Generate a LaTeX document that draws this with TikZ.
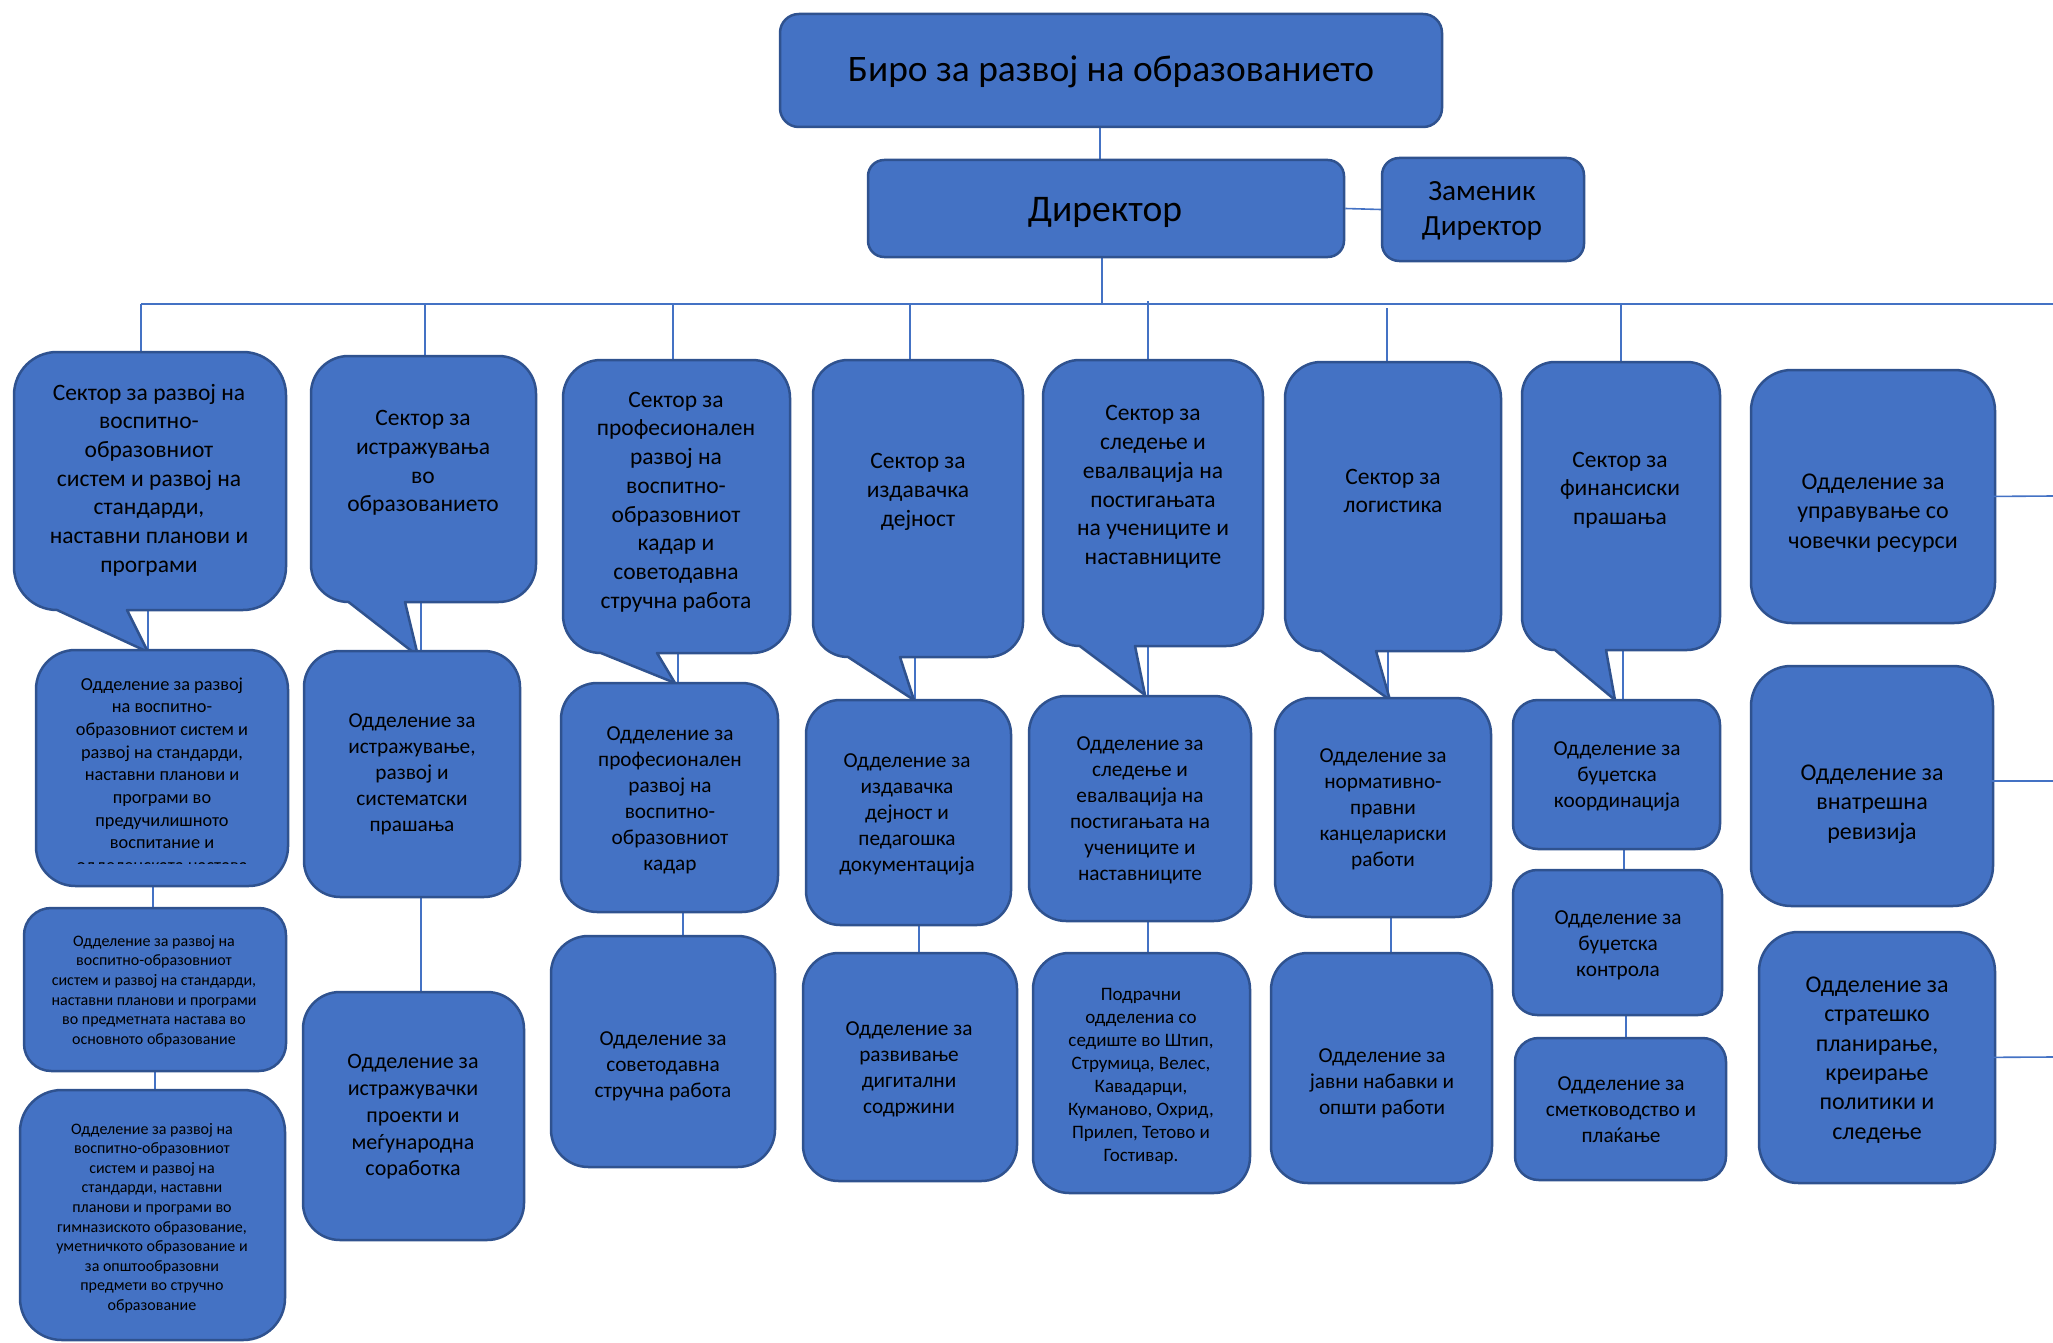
\documentclass[tikz,border=0pt]{standalone}
\usepackage{fontspec}
\setmainfont{Carlito}
\usetikzlibrary{backgrounds}
\definecolor{fillb}{HTML}{4472C4}
\definecolor{edgeb}{HTML}{2F528F}
\definecolor{lineb}{HTML}{4472C4}
\tikzset{
 box/.style={draw=edgeb, fill=fillb, line width=2.5pt, inner sep=0pt, line join=round},
 conn/.style={draw=lineb, line width=1.6pt},
 txt/.style={align=center, inner sep=0pt, text=black},
 ftitle/.style={font=\fontsize{37.4}{45}\selectfont},
 fdir/.style={font=\fontsize{37.6}{45}\selectfont},
 fzam/.style={font=\fontsize{29.3}{35}\selectfont},
 fsec/.style={font=\fontsize{23.5}{28.7}\selectfont},
 fhr/.style={font=\fontsize{24}{29.3}\selectfont},
 fdep/.style={font=\fontsize{21.3}{26}\selectfont},
 fdepb/.style={font=\fontsize{22}{26.7}\selectfont},
 fpod/.style={font=\fontsize{19}{23}\selectfont},
 fsmall/.style={font=\fontsize{18.3}{22.7}\selectfont},
 ftiny/.style={font=\fontsize{16}{19.6}\selectfont},
}
\newcommand\mybox[5]{%
 \pgfmathsetmacro\myw{#4-#2}\pgfmathsetmacro\myh{#5-#3}%
 \pgfmathsetmacro\myr{0.1667*min(\myw,\myh)}%
 \pgfmathsetmacro\mycx{(#2+#4)/2}\pgfmathsetmacro\mycy{(#3+#5)/2}%
 \node[box, minimum width=\myw pt, minimum height=\myh pt, rounded corners=\myr pt] (#1) at (\mycx,\mycy) {};}
\newcommand\mycallout[8]{%
 \pgfmathsetmacro\myw{#4-#2}\pgfmathsetmacro\myh{#5-#3}%
 \pgfmathsetmacro\myR{0.1667*min(\myw,\myh)}\pgfmathsetmacro\myK{0.5523*\myR}%
 \pgfmathsetmacro\mxa{#2+\myR}\pgfmathsetmacro\mxb{#4-\myR}%
 \pgfmathsetmacro\mya{#3+\myR}\pgfmathsetmacro\myb{#5-\myR}%
 \pgfmathsetmacro\mxak{\mxa-\myK}\pgfmathsetmacro\mxbk{\mxb+\myK}%
 \pgfmathsetmacro\myak{\mya-\myK}\pgfmathsetmacro\mybk{\myb+\myK}%
 \path[box] (\mxa,#3) -- (\mxb,#3) .. controls (\mxbk,#3) and (#4,\myak) .. (#4,\mya)
   -- (#4,\myb) .. controls (#4,\mybk) and (\mxbk,#5) .. (\mxb,#5)
   -- (#6,#5) -- (#7,#8) -- (\mxa,#5) .. controls (\mxak,#5) and (#2,\mybk) .. (#2,\myb)
   -- (#2,\mya) .. controls (#2,\myak) and (\mxak,#3) .. (\mxa,#3) -- cycle;
 \pgfmathsetmacro\mycx{(#2+#4)/2}\pgfmathsetmacro\mycy{(#3+#5)/2}%
 \node[inner sep=0pt, minimum width=\myw pt, minimum height=\myh pt] (#1) at (\mycx,\mycy) {};
 \coordinate (#1-tip) at (#7,#8);}
\begin{document}
\begin{tikzpicture}[x=1pt,y=-1pt]
\useasboundingbox (0,0) rectangle (2053,1343);
% ---------- boxes ----------
\mybox{biro}{780}{14}{1442}{127}
\mybox{dir}{868}{160}{1344}{257}
\mybox{zam}{1382}{158}{1584}{261}
\mycallout{s1}{14}{352}{286}{610}{127}{148}{652}
\mycallout{s2}{311}{356}{536}{602}{405}{418}{656}
\mycallout{s3}{563}{360}{790}{653}{657}{675}{683}
\mycallout{s4}{813}{360}{1023}{657}{900}{914}{700}
\mycallout{s5}{1043}{360}{1263}{646}{1135}{1145}{695}
\mycallout{s6}{1285}{362}{1501}{651}{1376}{1390}{700}
\mycallout{s7}{1522}{362}{1720}{650}{1606}{1615}{700}
\mybox{d1a}{36}{650}{288}{886}
\mybox{d1b}{24}{908}{286}{1071}
\mybox{d1c}{20}{1090}{285}{1340}
\mybox{d2a}{304}{651}{520}{897}
\mybox{d2b}{303}{992}{524}{1240}
\mybox{d3a}{561}{683}{778}{912}
\mybox{d3b}{551}{936}{775}{1167}
\mybox{d4a}{806}{700}{1011}{925}
\mybox{d4b}{803}{953}{1017}{1181}
\mybox{d5a}{1029}{696}{1251}{921}
\mybox{d5b}{1033}{953}{1250}{1193}
\mybox{d6a}{1275}{698}{1491}{917}
\mybox{d6b}{1271}{953}{1492}{1183}
\mybox{d7a}{1513}{700}{1720}{849}
\mybox{d7b}{1513}{870}{1722}{1015}
\mybox{d7c}{1515}{1038}{1726}{1180}
\mybox{hr}{1751}{370}{1995}{623}
\mybox{rev}{1751}{666}{1993}{906}
\mybox{strat}{1759}{932}{1995}{1183}
% ---------- connectors (behind) ----------
\coordinate (busL) at (141,304);
\coordinate (busR) at (2053,304);
\coordinate (kt) at (1100,0);
\coordinate (kd) at (1102,0);
\coordinate (b1) at (141,304);
\coordinate (b2) at (425,304);
\coordinate (b3) at (673,304);
\coordinate (b4) at (910,304);
\coordinate (b5) at (1148,301);
\coordinate (b6) at (1387,308);
\coordinate (b7) at (1621,304);
\coordinate (k1b) at (153,0);
\coordinate (k1c) at (155,0);
\coordinate (k2) at (421,0);
\coordinate (k3a) at (678,0);
\coordinate (k3b) at (683,0);
\coordinate (k4a) at (915,0);
\coordinate (k4b) at (919,0);
\coordinate (k5) at (1148,0);
\coordinate (k6a) at (1388,0);
\coordinate (k6b) at (1391,0);
\coordinate (k7a) at (1623,0);
\coordinate (k7b) at (1624,0);
\coordinate (k7c) at (1626,0);
\coordinate (hrE) at (2053,496);
\coordinate (revE) at (2053,781);
\coordinate (stratE) at (2053,1057);
\begin{scope}[on background layer]
\draw[conn] (biro.south -| kt) -- (dir.north -| kt);
\draw[conn] (dir.east) -- (zam.west);
\draw[conn] (dir.south -| kd) -- (busL -| kd);
\draw[conn] (busL) -- (busR);
\draw[conn] (b1) -- (s1.north -| b1);
\draw[conn] (b2) -- (s2.north -| b2);
\draw[conn] (b3) -- (s3.north -| b3);
\draw[conn] (b4) -- (s4.north -| b4);
\draw[conn] (b5) -- (s5.north -| b5);
\draw[conn] (b6) -- (s6.north -| b6);
\draw[conn] (b7) -- (s7.north -| b7);
\draw[conn] (s1.south -| s1-tip) -- (d1a.north -| s1-tip);
\draw[conn] (d1a.south -| k1b) -- (d1b.north -| k1b);
\draw[conn] (d1b.south -| k1c) -- (d1c.north -| k1c);
\draw[conn] (s2.south -| k2) -- (d2a.north -| k2);
\draw[conn] (d2a.south -| k2) -- (d2b.north -| k2);
\draw[conn] (s3.south -| k3a) -- (d3a.north -| k3a);
\draw[conn] (d3a.south -| k3b) -- (d3b.north -| k3b);
\draw[conn] (s4.south -| k4a) -- (d4a.north -| k4a);
\draw[conn] (d4a.south -| k4b) -- (d4b.north -| k4b);
\draw[conn] (s5.south -| k5) -- (d5a.north -| k5);
\draw[conn] (d5a.south -| k5) -- (d5b.north -| k5);
\draw[conn] (s6.south -| k6a) -- (d6a.north -| k6a);
\draw[conn] (d6a.south -| k6b) -- (d6b.north -| k6b);
\draw[conn] (s7.south -| k7a) -- (d7a.north -| k7a);
\draw[conn] (d7a.south -| k7b) -- (d7b.north -| k7b);
\draw[conn] (d7b.south -| k7c) -- (d7c.north -| k7c);
\end{scope}
\draw[conn] ([xshift=-12pt]hr.east) -- (hrE);
\draw[conn] ([xshift=-15pt]rev.east |- revE) -- (revE);
\draw[conn] ([xshift=-29pt]strat.east) -- (stratE);
% ---------- texts ----------
\node[txt,ftitle] (t-biro) at (1111,72) {Биро за развој на образованието};
\node[txt,fdir] (t-dir) at (1105,212) {Директор};
\node[txt,fzam] (t-zam) at (1482,211) {Заменик\\Директор};
\node[txt,fsec] (t-s1) at (149,480) {Сектор за развој на\\воспитно-\\образовниот\\систем и развој на\\стандарди,\\наставни планови и\\програми};
\node[txt,fsec] (t-s2) at (423,463) {Сектор за\\истражувања\\во\\образованието};
\node[txt,fsec] (t-s3) at (676,502) {Сектор за\\професионален\\развој на\\воспитно-\\образовниот\\кадар и\\советодавна\\стручна работа};
\node[txt,fsec] (t-s4) at (918,492) {Сектор за\\издавачка\\дејност};
\node[txt,fsec] (t-s5) at (1153,487) {Сектор за\\следење и\\евалвација на\\постигањата\\на учениците и\\наставниците};
\node[txt,fsec] (t-s6) at (1393,491) {Сектор за\\логистика};
\node[txt,fsec] (t-s7) at (1620,490) {Сектор за\\финансиски\\прашања};
\begin{scope}
\clip (30,640) rectangle (300,863.5);
\node[txt,fsmall] (t-d1a) at (162,776) {Одделение за развој\\на воспитно-\\образовниот систем и\\развој на стандарди,\\наставни планови и\\програми во\\предучилишното\\воспитание и\\одделенската настава};
\end{scope}
\node[txt,ftiny] (t-d1b) at (154,991) {Одделение за развој на\\воспитно-образовниот\\систем и развој на стандарди,\\наставни планови и програми\\во предметната настава во\\основното образование};
\node[txt,ftiny] (t-d1c) at (152,1218) {Одделение за развој на\\воспитно-образовниот\\систем и развој на\\стандарди, наставни\\планови и програми во\\гимназиското образование,\\уметничкото образование и\\за општообразовни\\предмети во стручно\\образование};
\node[txt,fdep] (t-d2a) at (412,774) {Одделение за\\истражување,\\развој и\\систематски\\прашања};
\node[txt,fdepb] (t-d2b) at (413,1117) {Одделение за\\истражувачки\\проекти и\\меѓународна\\соработка};
\node[txt,fdep] (t-d3a) at (670,800) {Одделение за\\професионален\\развој на\\воспитно-\\образовниот\\кадар};
\node[txt,fdep] (t-d3b) at (663,1066) {Одделение за\\советодавна\\стручна работа};
\node[txt,fdep] (t-d4a) at (907,814) {Одделение за\\издавачка\\дејност и\\педагошка\\документација};
\node[txt,fdep] (t-d4b) at (909,1069) {Одделение за\\развивање\\дигитални\\содржини};
\node[txt,fdep] (t-d5a) at (1140,810) {Одделение за\\следење и\\евалвација на\\постигањата на\\учениците и\\наставниците};
\node[txt,fpod] (t-d5b) at (1141,1076) {Подрачни\\одделениа со\\седиште во Штип,\\Струмица, Велес,\\Кавадарци,\\Куманово, Охрид,\\Прилеп, Тетово и\\Гостивар.};
\node[txt,fdep] (t-d6a) at (1383,809) {Одделение за\\нормативно-\\правни\\канцелариски\\работи};
\node[txt,fdep] (t-d6b) at (1382,1083) {Одделение за\\јавни набавки и\\општи работи};
\node[txt,fdep] (t-d7a) at (1617,776) {Одделение за\\буџетска\\координација};
\node[txt,fdep] (t-d7b) at (1618,945) {Одделение за\\буџетска\\контрола};
\node[txt,fdep] (t-d7c) at (1621,1110) {Одделение за\\сметководство и\\плаќање};
\node[txt,fhr] (t-hr) at (1873,513) {Одделение за\\управување со\\човечки ресурси};
\node[txt,fhr] (t-rev) at (1872,804) {Одделение за\\внатрешна\\ревизија};
\node[txt,fhr] (t-strat) at (1877,1060) {Одделение за\\стратешко\\планирање,\\креирање\\политики и\\следење};
\end{tikzpicture}
\end{document}
